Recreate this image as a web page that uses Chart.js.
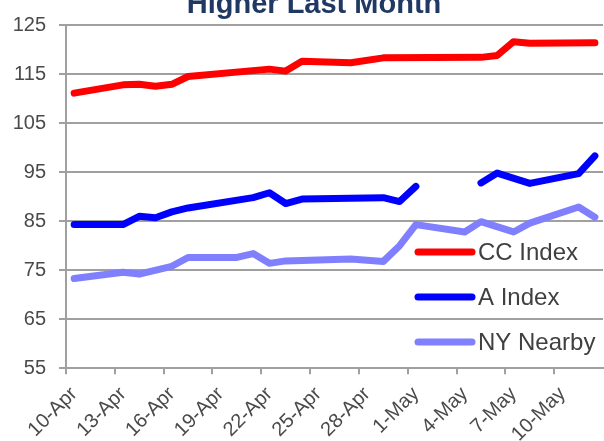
<!DOCTYPE html>
<html>
<head>
<meta charset="utf-8">
<script src="https://cdn.jsdelivr.net/npm/chart.js@4"></script>
<style>
  body { margin: 0; overflow: hidden; background: #fff; }
  #wrap { position: absolute; left: 0; top: 0; width: 620px; height: 441px; }
</style>
</head>
<body>
<div id="wrap"><canvas id="lineChart"></canvas></div>
<script>
// daily date axis, 10-Apr .. 12-May
const days = ["10-Apr","11-Apr","12-Apr","13-Apr","14-Apr","15-Apr","16-Apr","17-Apr","18-Apr","19-Apr",
  "20-Apr","21-Apr","22-Apr","23-Apr","24-Apr","25-Apr","26-Apr","27-Apr","28-Apr","29-Apr","30-Apr",
  "1-May","2-May","3-May","4-May","5-May","6-May","7-May","8-May","9-May","10-May","11-May","12-May"];

const ccDays  = ["10-Apr","13-Apr","14-Apr","15-Apr","16-Apr","17-Apr","22-Apr","23-Apr","24-Apr","27-Apr","29-Apr","5-May","6-May","7-May","8-May","12-May"];
const ccIndex = [111.1, 112.8, 112.9, 112.5, 112.9, 114.5, 116.0, 115.6, 117.6, 117.3, 118.3, 118.4, 118.8, 121.6, 121.3, 121.4];

const aDays  = ["10-Apr","13-Apr","14-Apr","15-Apr","16-Apr","17-Apr","21-Apr","22-Apr","23-Apr","24-Apr","29-Apr","30-Apr","1-May","3-May","5-May","6-May","8-May","11-May","12-May"];
const aIndex = [84.3, 84.3, 86.0, 85.7, 86.9, 87.7, 89.8, 90.8, 88.6, 89.5, 89.8, 89.0, 92.1, null, 92.8, 94.8, 92.7, 94.7, 98.3];

const nyDays   = ["10-Apr","13-Apr","14-Apr","16-Apr","17-Apr","20-Apr","21-Apr","22-Apr","23-Apr","27-Apr","29-Apr","30-Apr","1-May","4-May","5-May","7-May","8-May","11-May","12-May"];
const nyNearby = [73.3, 74.6, 74.2, 75.8, 77.6, 77.6, 78.4, 76.4, 76.9, 77.3, 76.8, 80.0, 84.3, 82.8, 84.9, 82.8, 84.6, 87.9, 85.8];

const yTicks = [55, 65, 75, 85, 95, 105, 115, 125];

const toPoints = (xs, ys) => xs.map((d, i) => ({ x: d, y: ys[i] }));

const axisGray = "#a0a0a0";
const labelGray = "#4a4a4a";

// title and in-plot legend, drawn like the spreadsheet original
const decorations = {
  id: "decorations",
  afterDraw(chart) {
    const ctx = chart.ctx;
    ctx.save();
    ctx.fillStyle = "#1f3864";
    ctx.font = "bold 29px 'Liberation Sans', Arial, sans-serif";
    ctx.textAlign = "center";
    ctx.textBaseline = "alphabetic";
    ctx.fillText("Higher Last Month", 314, 13);

    ctx.font = "24px 'Liberation Sans', Arial, sans-serif";
    ctx.textAlign = "left";
    ctx.textBaseline = "middle";
    chart.data.datasets.forEach((ds, i) => {
      const y = 252 + i * 45;
      ctx.strokeStyle = ds.borderColor;
      ctx.lineWidth = 7;
      ctx.lineCap = "round";
      ctx.beginPath();
      ctx.moveTo(418, y);
      ctx.lineTo(472, y);
      ctx.stroke();
      ctx.fillStyle = "#404040";
      ctx.fillText(ds.label, 478, y + 1);
    });
    ctx.restore();
  }
};

const lineStyle = {
  borderWidth: 7,
  pointRadius: 0,
  borderCapStyle: "round",
  borderJoinStyle: "round",
  tension: 0,
  spanGaps: false
};

new Chart(document.getElementById("lineChart").getContext("2d"), {
  type: "line",
  data: {
    labels: days,
    datasets: [
      { label: "CC Index", data: toPoints(ccDays, ccIndex), borderColor: "#ff0000", ...lineStyle },
      { label: "A Index", data: toPoints(aDays, aIndex), borderColor: "#0000ff", ...lineStyle },
      { label: "NY Nearby", data: toPoints(nyDays, nyNearby), borderColor: "#8080ff", ...lineStyle }
    ]
  },
  options: {
    responsive: true,
    maintainAspectRatio: false,
    animation: false,
    layout: { padding: { top: 22, right: 8.5, left: 0, bottom: 0 } },
    plugins: {
      legend: { display: false },
      title: { display: false },
      tooltip: { enabled: false }
    },
    scales: {
      x: {
        type: "category",
        offset: true,
        grid: {
          offset: true,
          drawOnChartArea: false,
          drawTicks: true,
          tickLength: 6,
          lineWidth: 2,
          color: (c) => (c.index % 3 === 0 ? axisGray : "rgba(0,0,0,0)")
        },
        border: { display: true, color: axisGray, width: 2 },
        ticks: {
          autoSkip: false,
          minRotation: 45,
          maxRotation: 45,
          padding: 8,
          color: labelGray,
          font: { family: "'Liberation Sans', Arial, sans-serif", size: 20 },
          callback: (v, i) => (i % 3 === 0 ? days[i] : "")
        },
        afterFit: (scale) => { scale.height = 72.7; }
      },
      y: {
        min: 55,
        max: 125,
        afterBuildTicks: (scale) => { scale.ticks = yTicks.map((v) => ({ value: v })); },
        grid: { color: axisGray, lineWidth: 2, tickLength: 7 },
        border: { display: true, color: axisGray, width: 2 },
        ticks: {
          padding: 13,
          color: labelGray,
          font: { family: "'Liberation Sans', Arial, sans-serif", size: 20 }
        },
        afterFit: (scale) => { scale.width = 66; }
      }
    }
  },
  plugins: [decorations]
});
</script>
</body>
</html>
